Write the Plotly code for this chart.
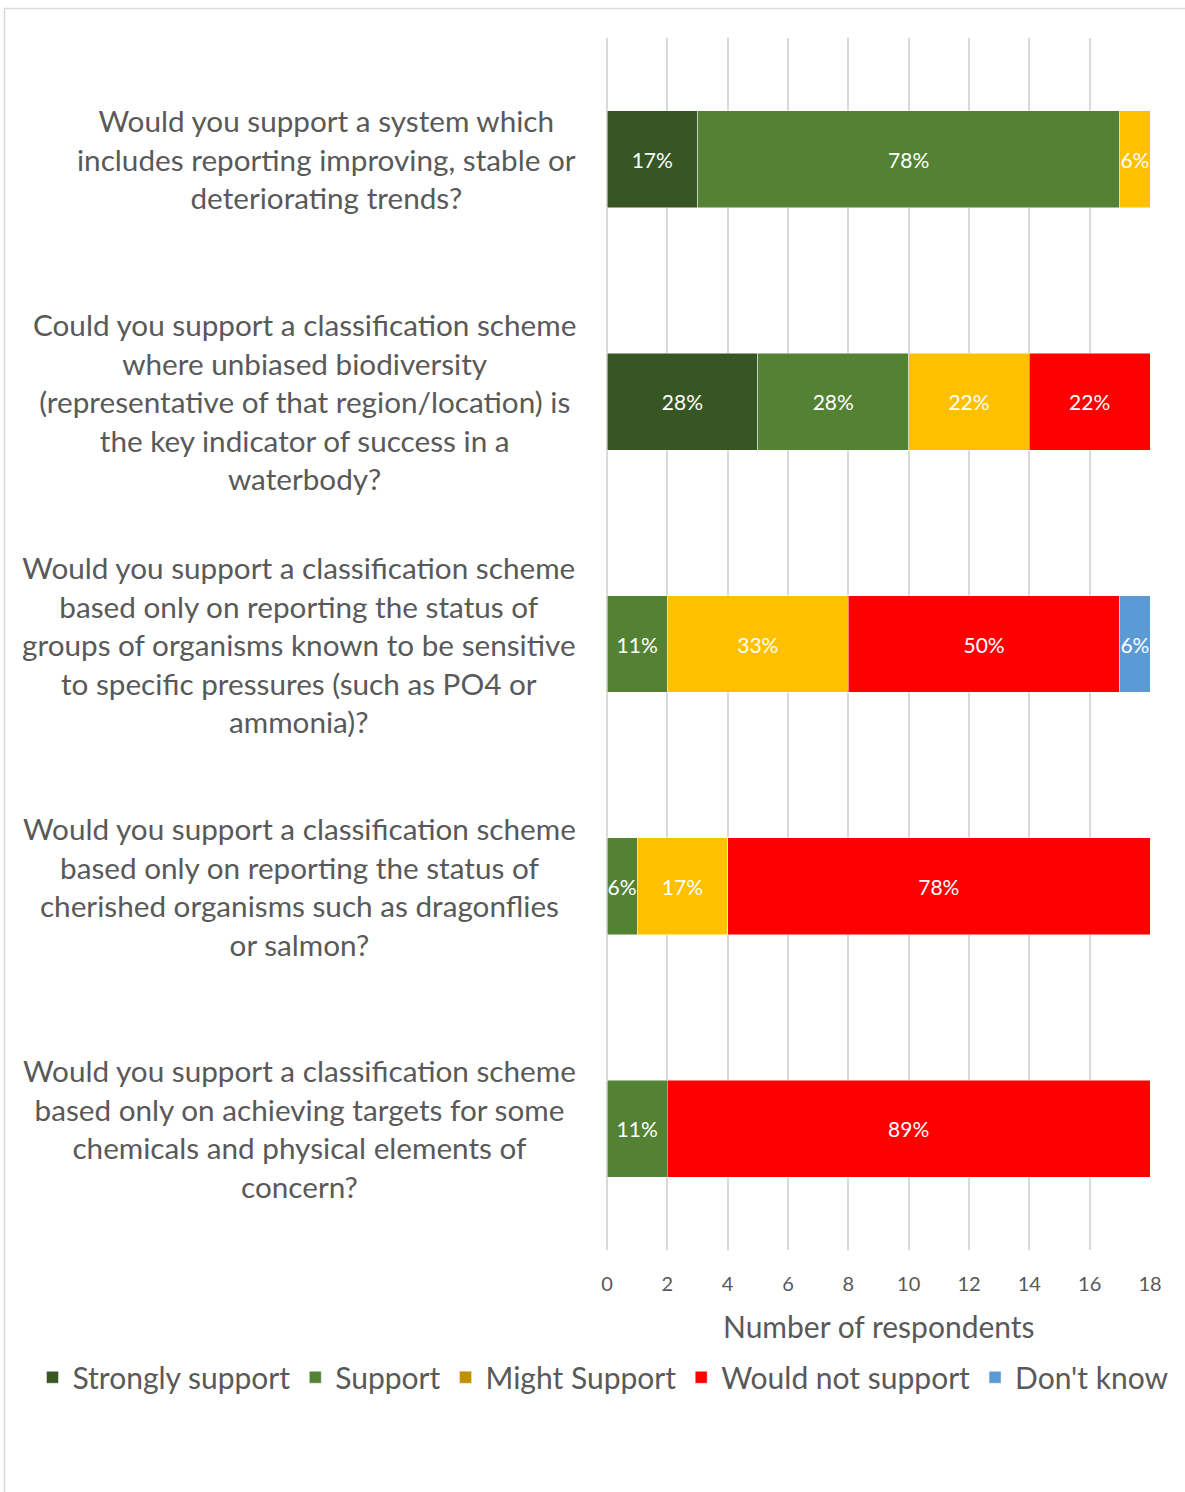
import plotly.graph_objects as go

# Survey questions (top to bottom)
questions = [
    "Would you support a system which<br>includes reporting improving, stable or<br>deteriorating trends?",
    "Could you support a classification scheme<br>where unbiased biodiversity<br>(representative of that region/location) is<br>the key indicator of success in a<br>waterbody?",
    "Would you support a classification scheme<br>based only on reporting the status of<br>groups of organisms known to be sensitive<br>to specific pressures (such as PO4 or<br>ammonia)?",
    "Would you support a classification scheme<br>based only on reporting the status of<br>cherished organisms such as dragonflies<br>or salmon?",
    "Would you support a classification scheme<br>based only on achieving targets for some<br>chemicals and physical elements of<br>concern?",
]
q_keys = ["Q1", "Q2", "Q3", "Q4", "Q5"]

# Number of respondents per answer
strongly_support = [3, 5, 0, 0, 0]
support = [14, 5, 2, 1, 2]
might_support = [1, 4, 6, 3, 0]
would_not_support = [0, 4, 9, 14, 16]
dont_know = [0, 0, 1, 0, 0]

x_ticks = [0, 2, 4, 6, 8, 10, 12, 14, 16, 18]

series = [
    ("Strongly support", strongly_support, "#375623"),
    ("Support", support, "#548235"),
    ("Might Support", might_support, "#FFC000"),
    ("Would not support", would_not_support, "#FF0000"),
    ("Don't know", dont_know, "#5B9BD5"),
]
legend_colors = {"Might Support": "#BF9000"}

totals = [sum(s[1][i] for s in series) for i in range(len(q_keys))]

FONT = "Lato"
GREY = "#595959"

fig = go.Figure()
for name, vals, color in series:
    labels = [f"{round(v / t * 100)}%" if v else "" for v, t in zip(vals, totals)]
    own_legend = name not in legend_colors
    fig.add_trace(go.Bar(
        name=name, y=q_keys, x=vals, orientation="h",
        marker=dict(color=color, line=dict(color="rgba(255,255,255,0.6)", width=0.8)),
        text=labels, textposition="inside", insidetextanchor="middle",
        constraintext="none", textangle=0, cliponaxis=False,
        textfont=dict(family=FONT, size=21, color="white"),
        showlegend=own_legend, hoverinfo="skip",
    ))
    if not own_legend:
        # legend swatch uses a darker shade for this answer
        fig.add_trace(go.Bar(
            name=name, y=[None], x=[None], orientation="h",
            marker=dict(color=legend_colors[name]), showlegend=True,
        ))

# Question labels, block right-aligned beside the bars, lines centred
for key, text in zip(q_keys, questions):
    fig.add_annotation(
        x=-0.0534, xref="paper", y=key, yref="y",
        xanchor="right", yanchor="middle", align="center",
        text=text, showarrow=False,
        font=dict(family=FONT, size=29.7, color=GREY),
    )

# Axis title
fig.add_annotation(
    x=0.5, xref="paper", y=-0.0627, yref="paper",
    xanchor="center", yanchor="middle", text="Number of respondents",
    showarrow=False, font=dict(family=FONT, size=30, color=GREY),
)

# Chart frame
fig.add_shape(
    type="rect", xref="paper", yref="paper",
    x0=-1.1096, x1=1.08, y0=-0.21, y1=1.0243,
    line=dict(color="#D9D9D9", width=1.5), fillcolor="rgba(0,0,0,0)", layer="below",
)

fig.update_layout(
    width=1185, height=1492,
    margin=dict(l=607, r=35, t=38, b=242),
    barmode="stack", bargap=0.6,
    plot_bgcolor="white", paper_bgcolor="white",
    font=dict(family=FONT, color=GREY),
    xaxis=dict(
        range=[0, 18], tickvals=x_ticks, showgrid=True,
        gridcolor="#D9D9D9", gridwidth=1.5, zeroline=True,
        zerolinecolor="#D9D9D9", zerolinewidth=1.5,
        ticks="outside", ticklen=16, tickcolor="rgba(0,0,0,0)",
        tickfont=dict(family=FONT, size=20, color=GREY),
        showline=False,
    ),
    yaxis=dict(
        categoryorder="array", categoryarray=q_keys, autorange="reversed",
        showticklabels=False, showgrid=False, zeroline=False, showline=False,
    ),
    legend=dict(
        orientation="h", x=-1.058, xanchor="left", y=-0.105, yanchor="middle",
        font=dict(family=FONT, size=30, color=GREY), traceorder="normal",
        itemwidth=30,
    ),
    showlegend=True,
)

fig.write_html("out.html")
